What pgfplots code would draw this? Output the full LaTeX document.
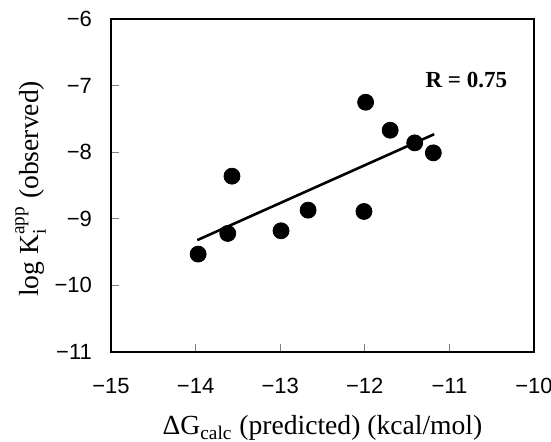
\documentclass[border=0pt]{standalone}
\usepackage{fontspec}
\usepackage{amsmath}
\setmainfont{Liberation Serif}
\newfontfamily\ticksans{Liberation Sans}
\usepackage{pgfplots}
\pgfplotsset{compat=1.18}

\begin{document}
\begin{tikzpicture}
\begin{axis}[
  scale only axis,
  width=211.5pt,
  height=166.5pt,
  xmin=-15, xmax=-10,
  ymin=-11, ymax=-6,
  xtick={-15,-14,-13,-12,-11,-10},
  ytick={-11,-10,-9,-8,-7,-6},
  xticklabels={−15,−14,−13,−12,−11,−10},
  yticklabels={−11,−10,−9,−8,−7,−6},
  tick align=inside,
  tick pos=left,
  major tick length=4pt,
  tick style={gray, line width=0.4pt},
  axis line style={line width=0.6pt},
  ticklabel style={font=\ticksans\fontsize{11}{13}\selectfont},
  xticklabel style={yshift=-9.5pt},
  yticklabel style={xshift=-6pt},
  xlabel={ΔG$_{\text{calc}}$ (predicted) (kcal/mol)},
  ylabel={log K$_{\text{i}}^{\text{app}}$ (observed)},
  label style={font=\fontsize{13.8}{16}\selectfont},
  xlabel style={at={(axis description cs:0.5,0)}, anchor=base, yshift=-41.5pt},
  ylabel style={at={(axis description cs:-0.19,0.49)}, anchor=center},
  clip=false,
]
\addplot[only marks, mark=*, mark size=4pt, black] coordinates {
  (-13.97,-9.53) (-13.62,-9.22) (-13.57,-8.36) (-12.99,-9.18)
  (-12.67,-8.87) (-12.01,-8.89) (-11.99,-7.25) (-11.70,-7.67)
  (-11.41,-7.86) (-11.19,-8.01)
};
\addplot[black, line width=1.3pt] coordinates {(-13.98,-9.32) (-11.18,-7.73)};
\node[font=\bfseries\fontsize{11.5}{13}\selectfont] at (axis cs:-10.80,-6.92) {R = 0.75};
\end{axis}
\pgfresetboundingbox
\path (current axis.south west) ++(-55.5pt,-45pt) rectangle (current axis.north east) ++(8.5pt,9.5pt);
\end{tikzpicture}
\end{document}
